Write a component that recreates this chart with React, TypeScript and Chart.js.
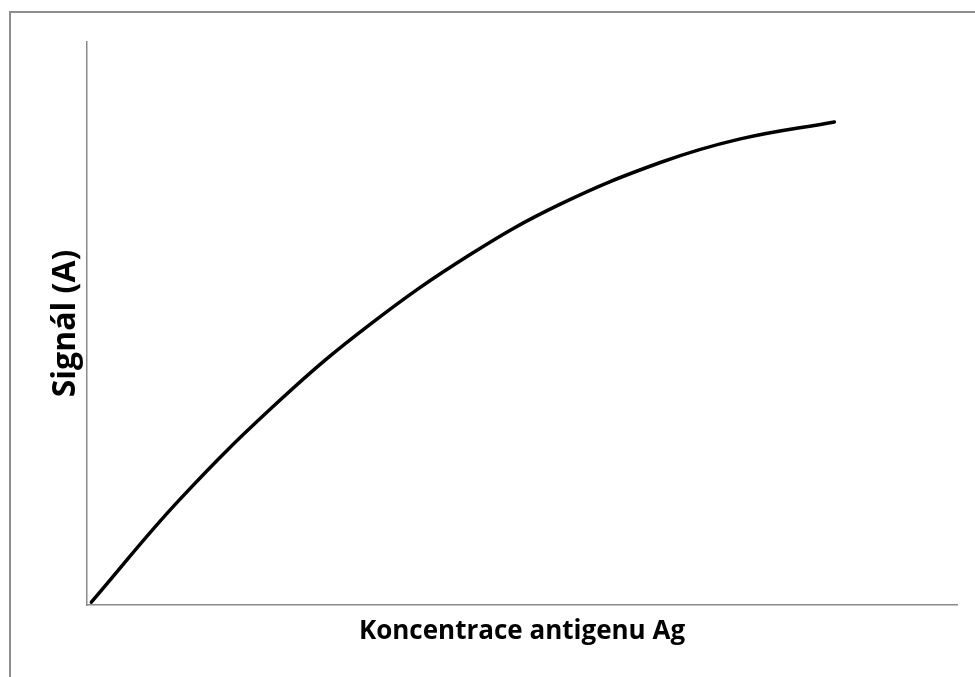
import React, { useEffect, useRef } from "react";
import { Chart, registerables } from "chart.js";

Chart.register(...registerables);

const xTitle = "Koncentrace antigenu Ag";
const yTitle = "Signál (A)";
const concentration = [0.05, 1.07, 2.22, 3.25, 4.4, 5.44, 6.59, 7.51, 8.59];
const signal = [0.5, 18.8, 36.4, 49.8, 62.2, 71.2, 78.6, 82.8, 85.8];

export default function App() {
  const ref = useRef<HTMLCanvasElement | null>(null);
  useEffect(() => {
    if (!ref.current) return;
    const family = "'Open Sans', sans-serif";
    const chart = new Chart(ref.current, {
      type: "line",
      data: {
        datasets: [
          {
            data: concentration.map((x, i) => ({ x, y: signal[i] })),
            borderColor: "#000000",
            borderWidth: 3.5,
            pointRadius: 0,
            tension: 0.4,
            borderCapStyle: "round",
            fill: false,
          },
        ],
      },
      options: {
        animation: false,
        responsive: false,
        maintainAspectRatio: false,
        layout: { padding: { left: 20, right: 18, top: 42, bottom: 29.4 } },
        plugins: { legend: { display: false }, tooltip: { enabled: false } },
        scales: {
          x: {
            type: "linear",
            min: 0,
            max: 10,
            grid: { display: false, drawTicks: false },
            ticks: { display: false },
            border: { display: true, color: "#8a8a8a", width: 1.5 },
            title: {
              display: true,
              text: xTitle,
              color: "#000000",
              font: { family, size: 26, weight: "bold" },
              padding: { top: 11.4, bottom: 0 },
            },
          },
          y: {
            type: "linear",
            min: 0,
            max: 100,
            grid: { display: false, drawTicks: false },
            ticks: { display: false },
            border: { display: true, color: "#8a8a8a", width: 1.5 },
            title: {
              display: true,
              text: yTitle,
              color: "#000000",
              font: { family, size: 32, weight: "bold" },
              padding: { top: 26.8, bottom: 1.8 },
            },
          },
        },
      },
    });
    return () => chart.destroy();
  }, []);
  return (
    <div style={{ position: "fixed", left: 0, top: 0, width: 975, height: 677, background: "#fff", overflow: "hidden" }}>
      <div
        style={{
          position: "absolute",
          left: 9,
          top: 11,
          width: 2000,
          height: 2000,
          borderLeft: "2px solid #8e8e8e",
          borderTop: "2px solid #8e8e8e",
        }}
      />
      <canvas ref={ref} width={975} height={677} style={{ position: "absolute", left: 0, top: 0, width: 975, height: 677 }} />
    </div>
  );
}
